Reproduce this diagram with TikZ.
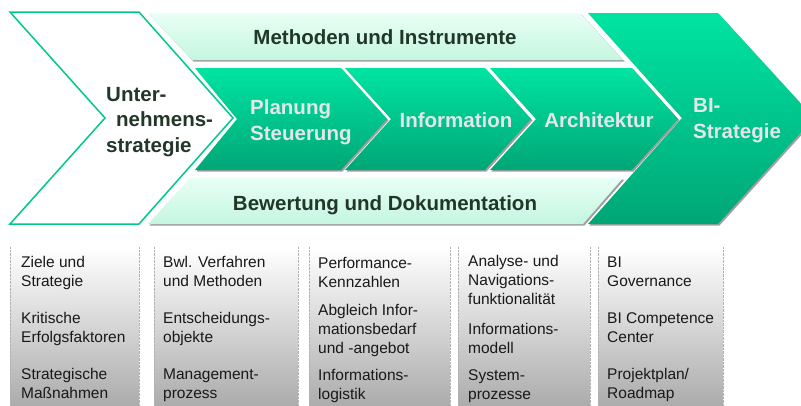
\documentclass[tikz,border=0pt]{standalone}
\usepackage{fontspec}
\setmainfont{Liberation Sans}
\usepackage{tikz}
\usetikzlibrary{positioning}
\usetikzlibrary{shadows}
\definecolor{bigreen}{RGB}{0,228,162}
\definecolor{bigreendark}{RGB}{0,166,118}
\definecolor{mintlight}{RGB}{232,255,245}
\definecolor{mint}{RGB}{196,246,224}
\definecolor{outlinegreen}{RGB}{0,200,140}
\definecolor{headdark}{RGB}{35,55,40}
\definecolor{chevwhite}{RGB}{228,230,234}
\definecolor{boxgray}{RGB}{172,172,172}
\definecolor{coldark}{RGB}{25,25,25}

\begin{document}
\begin{tikzpicture}[x=1pt,y=-1pt,
	softshadow/.style={drop shadow={shadow xshift=1.5pt,shadow yshift=-1.5pt,fill=gray!75,opacity=1}},
	chevdark/.style={top color=bigreen,bottom color=bigreendark,softshadow},
	bandlight/.style={top color=mintlight,bottom color=mint,softshadow},
	headtext/.style={font=\fontsize{20.5}{25.5}\selectfont\bfseries,text=headdark,inner sep=0pt,align=left},
	chevtext/.style={font=\fontsize{20.5}{25.5}\selectfont\bfseries,text=chevwhite,inner sep=0pt,align=left},
	colbox/.style={top color=white,bottom color=boxgray,minimum width=#1,minimum height=158pt,anchor=north west,inner sep=0pt},
	colside/.style={draw=gray!60,densely dotted},
	colitem/.style={font=\fontsize{15.5}{18.8}\selectfont,text=coldark,inner sep=0pt,align=left,anchor=base west}]
	
	\useasboundingbox (0,0) rectangle (801,405);
	
	\draw[outlinegreen,line width=1.5pt,fill=white] (10,12) -- (139,12) -- (233,118) -- (139,224) -- (10,224) -- (105,118) -- cycle;
	\path[bandlight] (148,13) -- (580,13) -- (623,60) -- (192,60) -- cycle;
	\path[bandlight] (190,178) -- (623,178) -- (583,224) -- (148,224) -- cycle;
	\path[chevdark] (588,13) -- (718,13) -- (814,118) -- (718,224) -- (588,224) -- (682,118) -- cycle;
	\path[chevdark] (195,68) -- (341,68) -- (387,119) -- (341,170) -- (195,170) -- (237,119) -- cycle;
	\path[chevdark] (345,68) -- (485,68) -- (531,119) -- (485,170) -- (345,170) -- (391,119) -- cycle;
	\path[chevdark] (490,68) -- (632,68) -- (678,119) -- (632,170) -- (490,170) -- (536,119) -- cycle;
	
	\node[headtext,anchor=base west] at (106,152) (0Unternehmen) {Unter-\\\hspace*{10pt}nehmens-\\strategie};
	\node[headtext,anchor=base] at (385,44) (1Methoden) {Methoden und Instrumente};
	\node[headtext,anchor=base] at (385,210) (3Bewertung) {Bewertung und Dokumentation};
	
	\node[chevtext,anchor=base west] at (250,140) (2Planung) {Planung\\Steuerung};
	\node[chevtext,anchor=base] at (456,127) (2Information) {Information};
	\node[chevtext,anchor=base] at (599,127) (2Architektur) {Architektur};
	\node[chevtext,anchor=base west] at (693,138) (2BI) {BI-\\Strategie};
	
	\node[colbox=129pt] at (10,247) (4col1) {}; \node[colbox=144pt] at (154,247) (4col2) {}; \node[colbox=141pt] at (309,247) (4col3) {};
	\node[colbox=132pt] at (458,247) (4col4) {}; \node[colbox=125pt] at (598,247) (4col5) {};
	\draw[colside] (4col1.north west) -- (4col1.south west); \draw[colside] (4col1.north east) -- (4col1.south east);
	\draw[colside] (4col2.north west) -- (4col2.south west); \draw[colside] (4col2.north east) -- (4col2.south east);
	\draw[colside] (4col3.north west) -- (4col3.south west); \draw[colside] (4col3.north east) -- (4col3.south east);
	\draw[colside] (4col4.north west) -- (4col4.south west); \draw[colside] (4col4.north east) -- (4col4.south east);
	\draw[colside] (4col5.north west) -- (4col5.south west); \draw[colside] (4col5.north east) -- (4col5.south east);
	
	\node[colitem] at (21,286) (5Ziele) {Ziele und\\Strategie}; \node[colitem] at (21,342) (5Kritische) {Kritische\\Erfolgsfaktoren};
	\node[colitem] at (21,398) (5Massnahmen) {Strategische\\Maßnahmen};
	\node[colitem] at (163,286) (5Bwl) {Bwl. Verfahren\\und Methoden}; \node[colitem] at (163,342) (5Entscheidung) {Entscheidungs-\\objekte};
	\node[colitem] at (163,398) (5Management) {Management-\\prozess};
	\node[colitem] at (318,287) (5Performance) {Performance-\\Kennzahlen}; \node[colitem] at (318,353) (5Abgleich) {Abgleich Infor-\\mationsbedarf\\und -angebot};
	\node[colitem] at (318,399) (5Logistik) {Informations-\\logistik};
	\node[colitem] at (468,304) (5Analyse) {Analyse- und\\Navigations-\\funktionalität}; \node[colitem] at (468,353) (5Modell) {Informations-\\modell};
	\node[colitem] at (468,399) (5System) {System-\\prozesse};
	\node[colitem] at (607,286) (5Governance) {BI\\Governance}; \node[colitem] at (607,342) (5Competence) {BI Competence\\Center};
	\node[colitem] at (607,398) (5Roadmap) {Projektplan/\\Roadmap};
	
\end{tikzpicture}
\end{document}
